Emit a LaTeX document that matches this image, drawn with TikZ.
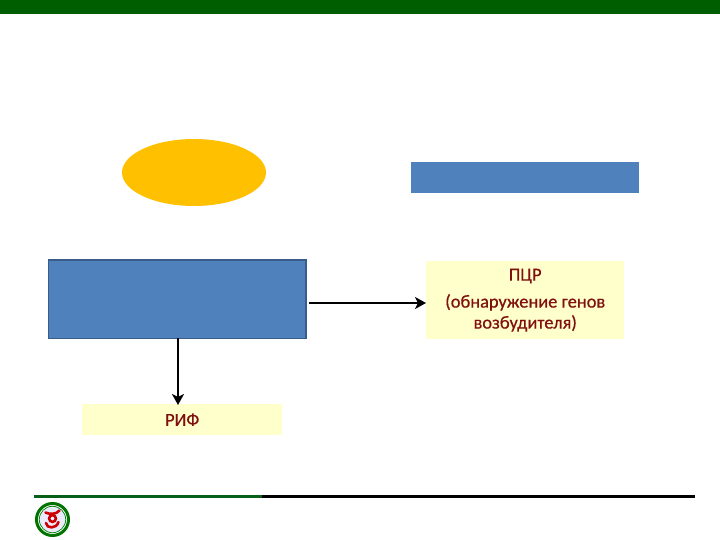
\documentclass[tikz,border=0pt]{standalone}
\usepackage{fontspec}
\setmainfont{Carlito}
\newfontfamily\labelfont[FakeBold=0.5]{Carlito}
\usetikzlibrary{arrows.meta,shapes.geometric}
\definecolor{topgreen}{RGB}{0,94,0}
\definecolor{linegreen}{RGB}{8,96,24}
\definecolor{boxblue}{RGB}{79,129,189}
\definecolor{boxedge}{RGB}{56,93,138}
\definecolor{sunny}{RGB}{255,192,0}
\definecolor{paleyellow}{RGB}{255,255,204}
\definecolor{darkred}{RGB}{128,16,16}
\tikzset{
  bluebox/.style={rectangle,fill=boxblue,inner sep=0pt,anchor=north west},
  palebox/.style={rectangle,fill=paleyellow,inner sep=0pt,anchor=north west,text=darkred,align=center,font=\labelfont\fontsize{18.4}{21}\selectfont},
  arrowline/.style={draw=black,line width=2.8pt,-{Stealth[length=11pt,width=12pt,inset=3pt]}},
  rule/.style={line width=3pt},
}
\begin{document}
\begin{tikzpicture}[x=1pt,y=-1pt]
\useasboundingbox (0,0) rectangle (720,540);
\fill[white] (0,0) rectangle (720,540);
\fill[topgreen] (0,0) rectangle (720,14.5);
\draw[rule,black] (262,496) -- (695,496);
\draw[rule,linegreen] (34,496) -- (262,496);
\node[ellipse,fill=sunny,inner sep=0pt,minimum width=144pt,minimum height=67pt] (oval) at (194,172.5) {};
\node[bluebox,minimum width=228pt,minimum height=31pt] (topbox) at (411,162) {};
\node[bluebox,draw=boxedge,line width=1.6pt,minimum width=257.5pt,minimum height=78.5pt] (mainbox) at (47.5,259) {};
\node[palebox,minimum width=198pt,minimum height=78pt] (pcr) at (426,261) {ПЦР\\[6pt](обнаружение генов\\возбудителя)};
\node[palebox,minimum width=200pt,minimum height=31pt] (rif) at (82,404) {РИФ};
\coordinate (start) at (309,303);
\coordinate (pcrin) at (426,303);
\coordinate (mainout) at (178,338);
\coordinate (rifin) at (178,405);
\draw[arrowline] (start) -- (pcrin);
\draw[arrowline] (mainout) -- (rifin);
% emblem
\fill[white] (52.5,519.5) circle (18);
\draw[draw=green!45!black,line width=3pt] (52.5,519.5) circle (16);
\fill[blue!8!white] (52.5,519.5) circle (13);
\draw[draw=green!50!black,line width=.7pt] (52.5,519.5) circle (13.2);
\draw[red!80!black,line width=2.6pt,line cap=round] (45.5,512.5) .. controls (50.5,515) and (56.5,514) .. (59.5,510.5);
\draw[red!80!black,line width=2.6pt] (52.5,518.5) circle (3.4);
\draw[red!80!black,line width=2.6pt,line cap=round] (46,523) .. controls (46.5,529) and (56.5,529) .. (58.5,522);
\end{tikzpicture}
\end{document}
